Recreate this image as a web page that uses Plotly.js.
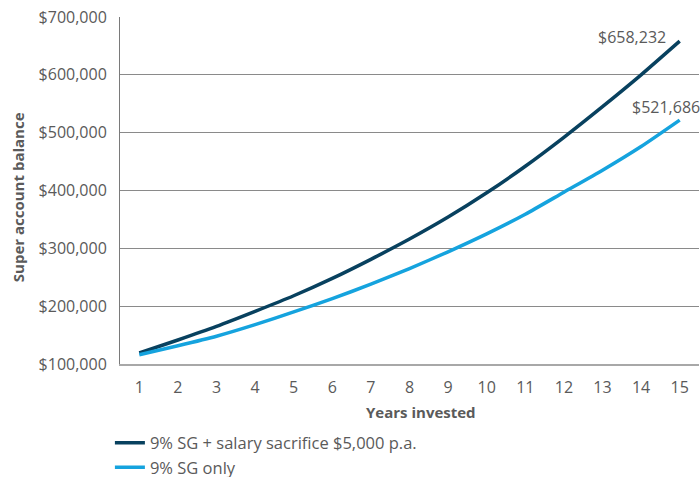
<!DOCTYPE html>
<html>
<head>
<meta charset="utf-8">
<script src="https://cdn.plot.ly/plotly-3.0.1.min.js"></script>
<style>
  html, body { margin: 0; padding: 0; background: #ffffff; }
  #chart { width: 700px; height: 477px; }
</style>
</head>
<body>
<div id="chart"></div>
<script>
// Projected super balance by year invested
const years = [1, 2, 3, 4, 5, 6, 7, 8, 9, 10, 11, 12, 13, 14, 15];
const withSacrifice = [119000, 141500, 165000, 191000, 218000, 248000, 281000, 316000, 354000, 396000, 442000, 492000, 545000, 600000, 658232];
const sgOnly = [116000, 131500, 148000, 168000, 190000, 213000, 238000, 265000, 294000, 325000, 359000, 397000, 435000, 476000, 521686];
const seriesNames = ['9% SG + salary sacrifice $5,000 p.a.', '9% SG only'];
const endLabels = ['$658,232', '$521,686'];

const FONT = 'Open Sans, sans-serif';
const TEXT = '#5a5a5a';
const DARK = '#08415f';
const LIGHT = '#15a3de';

const traces = [
  {
    x: years, y: withSacrifice, name: seriesNames[0], type: 'scatter', mode: 'lines',
    line: { color: DARK, width: 3.5, shape: 'spline', smoothing: 0.6 }
  },
  {
    x: years, y: sgOnly, name: seriesNames[1], type: 'scatter', mode: 'lines',
    line: { color: LIGHT, width: 3.5, shape: 'spline', smoothing: 0.6 }
  }
];

const layout = {
  width: 700, height: 477,
  margin: { l: 120, r: 1, t: 17, b: 113, autoexpand: false },
  paper_bgcolor: '#ffffff', plot_bgcolor: '#ffffff',
  font: { family: FONT, color: TEXT, size: 16 },
  showlegend: true,
  legend: {
    orientation: 'v', xref: 'container', yref: 'container',
    x: 0.157, xanchor: 'left', y: 0.108, yanchor: 'top',
    font: { family: FONT, size: 16.5, color: TEXT },
    bgcolor: 'rgba(0,0,0,0)', tracegroupgap: 0, itemwidth: 30
  },
  xaxis: {
    range: [0.5, 15.5], tickmode: 'linear', tick0: 1, dtick: 1,
    showgrid: false, zeroline: false,
    showline: true, linecolor: '#a8a8a8', linewidth: 2,
    ticks: '', ticklabelstandoff: 8,
    tickfont: { family: FONT, size: 16, color: TEXT },
    fixedrange: true
  },
  yaxis: {
    range: [100000, 700000], tickmode: 'linear', tick0: 100000, dtick: 100000,
    tickprefix: '$', tickformat: ',d',
    showgrid: true, gridcolor: '#8a8a8a', gridwidth: 1,
    zeroline: false,
    showline: true, linecolor: '#7a7a7a', linewidth: 1,
    ticks: '', ticklabelstandoff: 9,
    tickfont: { family: FONT, size: 16, color: TEXT },
    fixedrange: true
  },
  annotations: [
    {
      // y-axis title
      text: 'Super account balance', xref: 'paper', yref: 'paper', x: -0.176, y: 0.481,
      xanchor: 'center', yanchor: 'middle', textangle: -90, showarrow: false,
      font: { family: FONT, size: 15, color: TEXT, weight: 'bold' }
    },
    {
      // x-axis title
      text: 'Years invested', xref: 'paper', yref: 'paper', x: 0.52, y: -0.138,
      xanchor: 'center', yanchor: 'middle', showarrow: false,
      font: { family: FONT, size: 15, color: TEXT, weight: 'bold' }
    },
    {
      text: endLabels[0], x: years[14], y: withSacrifice[14], xref: 'x', yref: 'y',
      xanchor: 'right', yanchor: 'middle', xshift: -12, yshift: 4, showarrow: false,
      font: { family: FONT, size: 16, color: TEXT }
    },
    {
      text: endLabels[1], x: years[14], y: sgOnly[14], xref: 'x', yref: 'y',
      xanchor: 'left', yanchor: 'middle', xshift: -50, yshift: 13, showarrow: false,
      font: { family: FONT, size: 16, color: TEXT }
    }
  ]
};

Plotly.newPlot('chart', traces, layout, { staticPlot: true, displayModeBar: false });
</script>
</body>
</html>
